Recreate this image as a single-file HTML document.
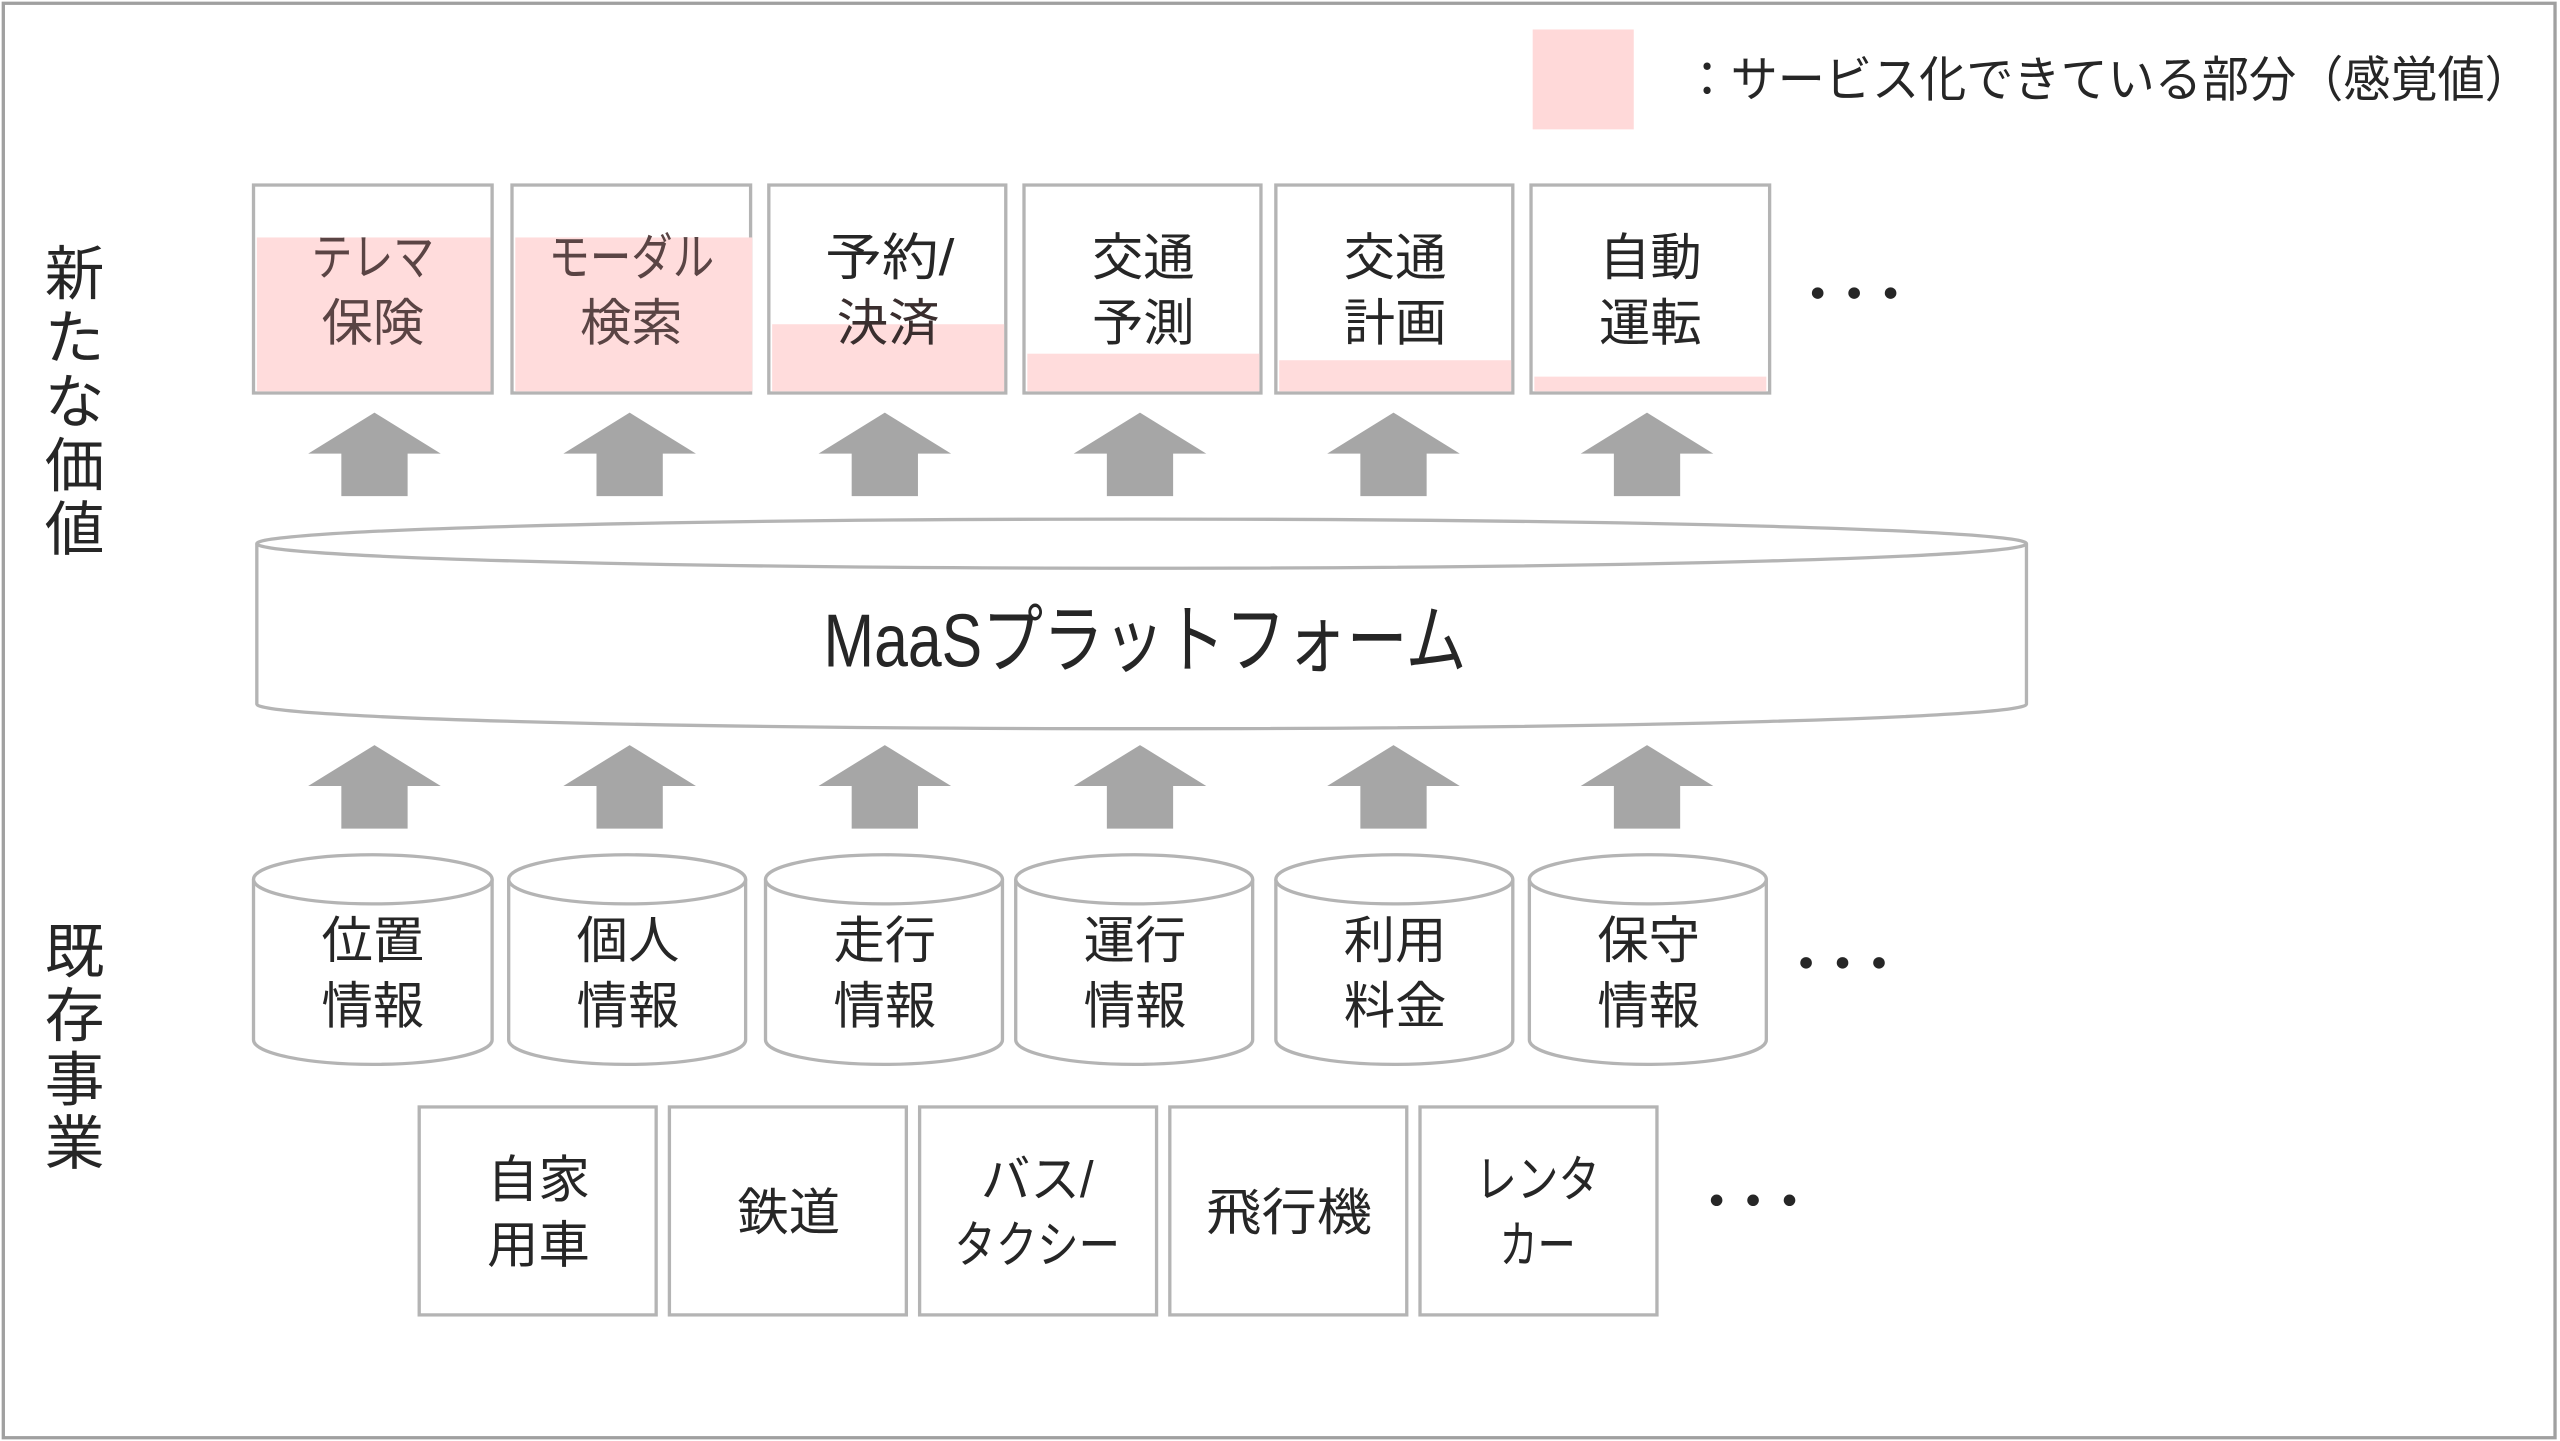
<!DOCTYPE html>
<html><head><meta charset="utf-8"><style>
html,body{margin:0;padding:0;background:#fff;}
svg{display:block;}
text{font-family:"Liberation Sans","Noto Sans CJK JP",sans-serif;fill:#262626;}
</style></head><body>
<svg width="2560" height="1441" viewBox="0 0 1545 880" preserveAspectRatio="none" xmlns="http://www.w3.org/2000/svg">
<defs>
<path id="a" d="M0,0 L40,25 L20,25 L20,51 L-20,51 L-20,25 L-40,25 Z"/>
<g id="d"><circle cx="-22" cy="0" r="3.5"/><circle cx="0" cy="0" r="3.5"/><circle cx="22" cy="0" r="3.5"/></g>
</defs>
<rect x="2" y="2" width="1540" height="876" fill="#fff" stroke="#a0a0a0" stroke-width="2"/>
<!-- legend -->
<rect x="925" y="18" width="61" height="61" fill="#ffd9d9"/>
<text x="1016" y="59" font-size="30" textLength="512" lengthAdjust="spacingAndGlyphs">：サービス化できている部分（感覚値）</text>
<!-- left labels -->
<g font-size="36" text-anchor="middle">
<text x="45" y="180">新</text><text x="45" y="219">た</text><text x="45" y="258">な</text><text x="45" y="297">価</text><text x="45" y="336">値</text>
<text x="45" y="594">既</text><text x="45" y="633">存</text><text x="45" y="672">事</text><text x="45" y="711">業</text>
</g>
<!-- top boxes -->
<g stroke="#b4b4b4" stroke-width="2">
<rect x="153" y="113" width="144" height="127" fill="#fff"/>
<rect x="309" y="113" width="144" height="127" fill="#fff"/>
<rect x="464" y="113" width="143" height="127" fill="#fff"/>
<rect x="618" y="113" width="143" height="127" fill="#fff"/>
<rect x="770" y="113" width="143" height="127" fill="#fff"/>
<rect x="924" y="113" width="144" height="127" fill="#fff"/>
</g>
<g fill="#ffdcdc">
<rect x="155" y="145" width="141" height="94"/>
<rect x="311" y="145" width="143" height="94"/>
<rect x="466" y="198" width="140" height="41"/>
<rect x="620" y="216" width="140" height="23"/>
<rect x="772" y="220" width="140" height="19"/>
<rect x="926" y="230" width="140" height="9"/>
</g>
<g font-size="31" text-anchor="middle">
<text x="225" y="168" style="fill:#5a4444" textLength="74" lengthAdjust="spacingAndGlyphs">テレマ</text><text x="225" y="208" style="fill:#5a4444">保険</text>
<text x="381" y="168" style="fill:#5a4444" textLength="100" lengthAdjust="spacingAndGlyphs">モーダル</text><text x="381" y="208" style="fill:#5a4444">検索</text>
<text x="537" y="168" textLength="78" lengthAdjust="spacingAndGlyphs">予約/</text><text x="536" y="208" style="fill:#3a2e2e">決済</text>
<text x="690" y="168">交通</text><text x="690" y="208">予測</text>
<text x="842" y="168">交通</text><text x="842" y="208">計画</text>
<text x="996" y="168">自動</text><text x="996" y="208">運転</text>
</g>
<g fill="#262626">
<use href="#d" x="1119" y="179"/>
<use href="#d" x="1112" y="588"/>
<use href="#d" x="1058" y="733"/>
</g>
<!-- arrows -->
<g fill="#a6a6a6">
<use href="#a" x="226" y="252"/><use href="#a" x="380" y="252"/><use href="#a" x="534" y="252"/><use href="#a" x="688" y="252"/><use href="#a" x="841" y="252"/><use href="#a" x="994" y="252"/>
<use href="#a" x="226" y="455"/><use href="#a" x="380" y="455"/><use href="#a" x="534" y="455"/><use href="#a" x="688" y="455"/><use href="#a" x="841" y="455"/><use href="#a" x="994" y="455"/>
</g>
<!-- platform -->
<g stroke="#b4b4b4" stroke-width="2" fill="#fff">
<path d="M155,332 L155,430 A534,15 0 0 0 1223,430 L1223,332"/>
<ellipse cx="689" cy="332" rx="534" ry="15"/>
</g>
<text x="691" y="407" font-size="46" text-anchor="middle" textLength="388" lengthAdjust="spacingAndGlyphs">MaaSプラットフォーム</text>
<!-- data cylinders -->
<g stroke="#b4b4b4" stroke-width="2" fill="#fff">
<path d="M153,537 L153,635 A72,15 0 0 0 297,635 L297,537"/><ellipse cx="225" cy="537" rx="72" ry="15"/>
<path d="M307,537 L307,635 A71.5,15 0 0 0 450,635 L450,537"/><ellipse cx="378.5" cy="537" rx="71.5" ry="15"/>
<path d="M462,537 L462,635 A71.5,15 0 0 0 605,635 L605,537"/><ellipse cx="533.5" cy="537" rx="71.5" ry="15"/>
<path d="M613,537 L613,635 A71.5,15 0 0 0 756,635 L756,537"/><ellipse cx="684.5" cy="537" rx="71.5" ry="15"/>
<path d="M770,537 L770,635 A71.5,15 0 0 0 913,635 L913,537"/><ellipse cx="841.5" cy="537" rx="71.5" ry="15"/>
<path d="M923,537 L923,635 A71.5,15 0 0 0 1066,635 L1066,537"/><ellipse cx="994.5" cy="537" rx="71.5" ry="15"/>
</g>
<g font-size="31" text-anchor="middle">
<text x="225" y="585">位置</text><text x="225" y="625">情報</text>
<text x="379" y="585">個人</text><text x="379" y="625">情報</text>
<text x="534" y="585">走行</text><text x="534" y="625">情報</text>
<text x="685" y="585">運行</text><text x="685" y="625">情報</text>
<text x="842" y="585">利用</text><text x="842" y="625">料金</text>
<text x="995" y="585">保守</text><text x="995" y="625">情報</text>
</g>
<!-- bottom boxes -->
<g stroke="#b4b4b4" stroke-width="2" fill="#fff">
<rect x="253" y="676" width="143" height="127"/>
<rect x="404" y="676" width="143" height="127"/>
<rect x="555" y="676" width="143" height="127"/>
<rect x="706" y="676" width="143" height="127"/>
<rect x="857" y="676" width="143" height="127"/>
</g>
<g font-size="31" text-anchor="middle">
<text x="325" y="731">自家</text><text x="325" y="771">用車</text>
<text x="476" y="751">鉄道</text>
<text x="626" y="731" textLength="68" lengthAdjust="spacingAndGlyphs">バス/</text><text x="626" y="771" textLength="100" lengthAdjust="spacingAndGlyphs">タクシー</text>
<text x="778" y="751" textLength="100" lengthAdjust="spacingAndGlyphs">飛行機</text>
<text x="928" y="731" textLength="75" lengthAdjust="spacingAndGlyphs">レンタ</text><text x="928" y="771" textLength="46" lengthAdjust="spacingAndGlyphs">カー</text>
</g>
</svg>
</body></html>
